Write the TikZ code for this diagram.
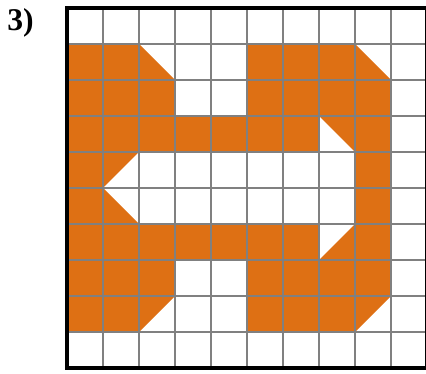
\documentclass[tikz,border=0pt]{standalone}
\usepackage{fontspec}
\setmainfont{Liberation Serif}
\definecolor{shapeorange}{RGB}{222,112,20}
\definecolor{gridgray}{RGB}{128,128,128}
\tikzset{
  gridline/.style={draw=gridgray, line width=1.6pt},
  borderline/.style={draw=black, line width=2.4pt},
  figfill/.style={fill=shapeorange, even odd rule},
  labeltext/.style={font=\bfseries\fontsize{25}{25}\selectfont, inner sep=0pt}
}
\begin{document}
\begin{tikzpicture}[x=1cm,y=1cm]
\useasboundingbox (-1.861,-0.139) rectangle (9.972,10.222);
% orange figure with its hole
\path[figfill]
  (0,9) -- (2,9) -- (3,8) -- (3,7) -- (5,7) -- (5,9) -- (8,9) -- (9,8) -- (9,2)
  -- (8,1) -- (5,1) -- (5,3) -- (3,3) -- (3,2) -- (2,1) -- (0,1) -- cycle
  (2,6) -- (7,6) -- (7,7) -- (8,6) -- (8,4) -- (7,3) -- (7,4) -- (2,4) -- (1,5) -- cycle;
% grid
\foreach \i in {1,...,9} {
  \draw[gridline] (\i,0) -- (\i,10);
  \draw[gridline] (0,\i) -- (10,\i);
}
\draw[borderline] (0,0) rectangle (10,10);
\node[labeltext] (lab) at (-1.29,9.58) {3)};
\end{tikzpicture}
\end{document}
